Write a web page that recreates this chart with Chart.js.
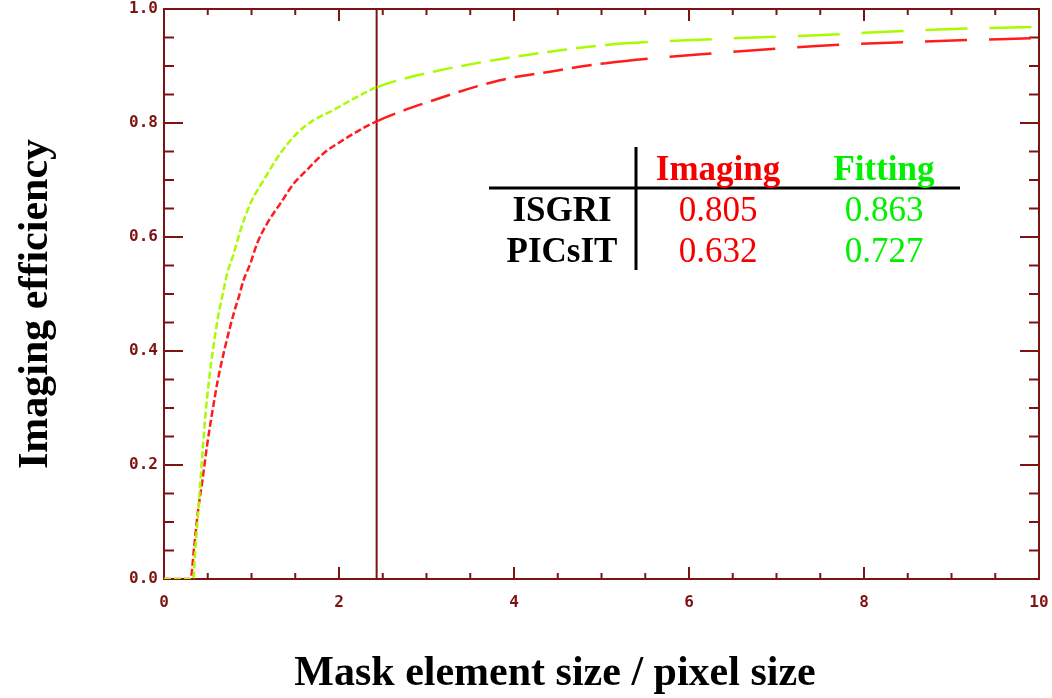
<!DOCTYPE html>
<html>
<head>
<meta charset="utf-8">
<title>Imaging efficiency</title>
<script src="https://cdn.jsdelivr.net/npm/chart.js@4.4.1/dist/chart.umd.min.js"></script>
<style>
    html, body { margin: 0; padding: 0; background: #ffffff; }
    #wrap { width: 1052px; height: 698px; }
</style>
</head>
<body>
<div id="wrap"><canvas id="effChart" width="1052" height="698"></canvas></div>
<script>
// values
const imagingX = [0, 0.303, 0.345, 0.385, 0.44, 0.49, 0.55, 0.615, 0.70, 0.797, 0.855, 0.911, 0.988, 1.065, 1.179, 1.331, 1.483, 1.636, 1.825, 2.016, 2.207, 2.43, 3.08, 3.84, 4.41, 5.05, 6.26, 7.46, 8.67, 10];
const imagingY = [0, 0, 0.057, 0.115, 0.174, 0.232, 0.291, 0.349, 0.408, 0.466, 0.495, 0.525, 0.554, 0.589, 0.624, 0.659, 0.694, 0.718, 0.747, 0.767, 0.785, 0.803, 0.840, 0.875, 0.890, 0.905, 0.922, 0.935, 0.943, 0.949];

const fittingX = [0, 0.333, 0.36, 0.39, 0.417, 0.445, 0.475, 0.515, 0.565, 0.625, 0.665, 0.722, 0.797, 0.874, 0.988, 1.14, 1.331, 1.521, 1.711, 1.94, 2.207, 2.435, 3.08, 3.84, 4.41, 5.05, 6.26, 7.46, 8.67, 10];
const fittingY = [0, 0, 0.057, 0.115, 0.174, 0.232, 0.291, 0.349, 0.408, 0.466, 0.495, 0.536, 0.571, 0.612, 0.659, 0.700, 0.747, 0.782, 0.805, 0.823, 0.846, 0.863, 0.890, 0.912, 0.925, 0.937, 0.947, 0.954, 0.963, 0.969];

const isgriRatio = 2.43;

const xTicks = [0, 2, 4, 6, 8, 10];
const yTicks = [0, 0.2, 0.4, 0.6, 0.8, 1.0];

const tableCols = ['Imaging', 'Fitting'];
const tableRows = ['ISGRI', 'PICsIT'];
const imagingEff = [0.805, 0.632];
const fittingEff = [0.863, 0.727];

const axisColor = '#7d1414';
const redColor = 'rgb(255,28,28)';
const greenColor = 'rgb(170,250,0)';

const toPoints = (xs, ys) => xs.map((x, i) => ({ x: x, y: ys[i] }));

// short dashes near the knee, longer ones further out
const dashFor = (ctx) => {
    const x = ctx.p0.parsed.x;
    if (x < 2.4) return [7, 3];
    if (x < 5) return [20, 9];
    return [42, 22];
};

// keep the plot box where the original has it, labels may hang over the edge
const fixBox = (size) => (s) => {
    if (s.isHorizontal()) s.height = size; else s.width = size;
    s.paddingTop = 0;
    s.paddingBottom = 0;
    s.paddingLeft = 0;
    s.paddingRight = 0;
};

// frame with inward ticks on all four sides
const framePlugin = {
    id: 'frame',
    beforeDatasetsDraw(chart) {
        const { ctx, chartArea: a, scales: { x, y } } = chart;
        ctx.save();
        ctx.strokeStyle = axisColor;
        ctx.lineWidth = 2;
        ctx.strokeRect(a.left, a.top, a.right - a.left, a.bottom - a.top);
        ctx.beginPath();
        for (let i = 0; i <= 20; i++) {
            const px = x.getPixelForValue(i * 0.5);
            const len = i % 4 === 0 ? 12 : 6;
            ctx.moveTo(px, a.bottom); ctx.lineTo(px, a.bottom - len);
            ctx.moveTo(px, a.top); ctx.lineTo(px, a.top + len);
        }
        for (let i = 0; i <= 20; i++) {
            const py = y.getPixelForValue(i * 0.05);
            const len = i % 4 === 0 ? 19 : 10;
            ctx.moveTo(a.left, py); ctx.lineTo(a.left + len, py);
            ctx.moveTo(a.right, py); ctx.lineTo(a.right - len, py);
        }
        ctx.stroke();
        ctx.restore();
    }
};

// axis titles and the little results table
const textPlugin = {
    id: 'texts',
    afterDraw(chart) {
        const ctx = chart.ctx;
        ctx.save();
        ctx.fillStyle = '#000000';
        ctx.font = 'bold 42px "Liberation Serif", "DejaVu Serif", serif';
        ctx.textAlign = 'center';
        ctx.textBaseline = 'alphabetic';
        ctx.fillText('Mask element size / pixel size', 555, 685);

        ctx.save();
        ctx.translate(47, 304);
        ctx.rotate(-Math.PI / 2);
        ctx.fillText('Imaging efficiency', 0, 0);
        ctx.restore();

        // table lines
        ctx.strokeStyle = '#000000';
        ctx.lineWidth = 3;
        ctx.beginPath();
        ctx.moveTo(489, 188); ctx.lineTo(960, 188);
        ctx.moveTo(636, 147); ctx.lineTo(636, 270);
        ctx.stroke();

        const colX = [718, 884];
        const colColor = ['rgb(245,0,0)', 'rgb(0,240,0)'];
        const rowY = [221, 262];

        ctx.font = 'bold 35px "Liberation Serif", serif';
        tableCols.forEach((c, i) => {
            ctx.fillStyle = colColor[i];
            ctx.fillText(c, colX[i], 180);
        });
        ctx.fillStyle = '#000000';
        tableRows.forEach((r, i) => ctx.fillText(r, 562, rowY[i]));

        ctx.font = '35px "Liberation Serif", serif';
        [imagingEff, fittingEff].forEach((vals, c) => {
            ctx.fillStyle = colColor[c];
            vals.forEach((v, r) => ctx.fillText(v.toFixed(3), colX[c], rowY[r]));
        });
        ctx.restore();
    }
};

const tickFont = { family: '"DejaVu Sans Mono", monospace', size: 16, weight: 'bold' };

new Chart(document.getElementById('effChart'), {
    type: 'scatter',
    data: {
        datasets: [
            {
                label: 'Fitting',
                data: toPoints(fittingX, fittingY),
                showLine: true,
                borderColor: greenColor,
                borderWidth: 2.5,
                pointRadius: 0,
                cubicInterpolationMode: 'monotone',
                segment: { borderDash: dashFor }
            },
            {
                label: 'Imaging',
                data: toPoints(imagingX, imagingY),
                showLine: true,
                borderColor: redColor,
                borderWidth: 2.5,
                pointRadius: 0,
                cubicInterpolationMode: 'monotone',
                segment: { borderDash: dashFor }
            },
            {
                label: 'ISGRI',
                data: [{ x: isgriRatio, y: 0 }, { x: isgriRatio, y: 1 }],
                showLine: true,
                borderColor: axisColor,
                borderWidth: 2,
                pointRadius: 0
            }
        ]
    },
    options: {
        responsive: false,
        animation: false,
        devicePixelRatio: 1,
        layout: { padding: { left: 0, top: 9, right: 13, bottom: 0 } },
        plugins: {
            legend: { display: false },
            tooltip: { enabled: false }
        },
        scales: {
            x: {
                type: 'linear',
                min: 0,
                max: 10,
                grid: { display: false, drawTicks: false },
                border: { display: false },
                afterBuildTicks: (s) => { s.ticks = xTicks.map(v => ({ value: v })); },
                afterFit: fixBox(119),
                ticks: {
                    color: axisColor,
                    font: tickFont,
                    padding: 14,
                    maxRotation: 0,
                    autoSkip: false,
                    callback: (v) => String(v)
                }
            },
            y: {
                type: 'linear',
                min: 0,
                max: 1,
                grid: { display: false, drawTicks: false },
                border: { display: false },
                afterBuildTicks: (s) => { s.ticks = yTicks.map(v => ({ value: v })); },
                afterFit: fixBox(164),
                ticks: {
                    color: axisColor,
                    font: tickFont,
                    padding: 6,
                    autoSkip: false,
                    callback: (v) => v.toFixed(1)
                }
            }
        }
    },
    plugins: [framePlugin, textPlugin]
});
</script>
</body>
</html>
